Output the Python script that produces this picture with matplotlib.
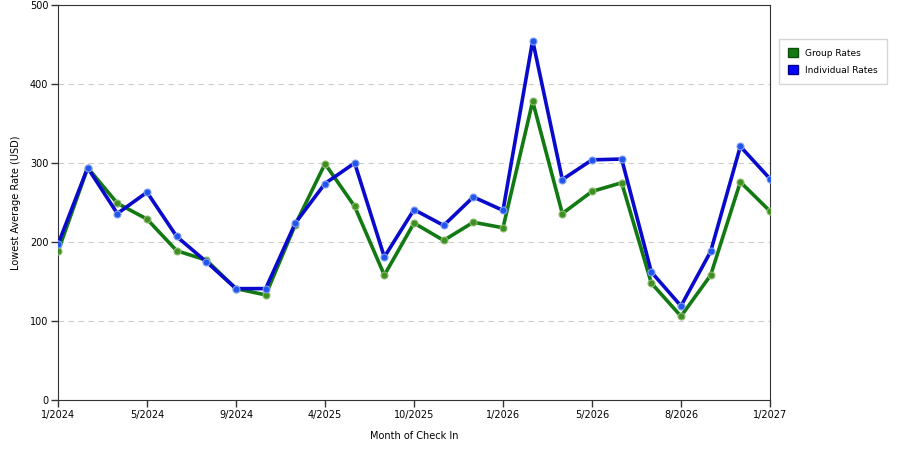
import matplotlib.pyplot as plt
from matplotlib.patches import Patch

# data
months = ["1/2024", "5/2024", "9/2024", "4/2025", "10/2025",
          "1/2026", "5/2026", "8/2026", "1/2027"]
group_rates = [188, 294, 249, 229, 189, 177, 141, 133, 222, 299, 245, 158, 224,
               202, 225, 218, 378, 236, 264, 275, 148, 106, 158, 276, 239]
indiv_rates = [197, 294, 236, 263, 207, 175, 141, 141, 224, 274, 300, 181, 241,
               221, 257, 240, 455, 279, 304, 305, 162, 119, 188, 321, 280]

x = list(range(len(group_rates)))

fig = plt.figure(figsize=(9, 4.5), dpi=100)
ax = fig.add_axes([58 / 900, 1 - 400 / 450, (770 - 58) / 900, 395 / 450])

ax.plot(x, group_rates, color='#137a13', linewidth=2.6, zorder=3,
        marker='o', markersize=5, markerfacecolor='#3f8f22', markeredgecolor='#8dbb70',
        markeredgewidth=0.8)
ax.plot(x, indiv_rates, color='#0a0acc', linewidth=2.6, zorder=4,
        marker='o', markersize=5, markerfacecolor='#2255ee', markeredgecolor='#7f9ff0',
        markeredgewidth=0.8)

ax.set_xlim(0, len(x) - 1)
ax.set_ylim(0, 500)
ax.set_xticks(x[::3])
ax.set_xticklabels(months)
ax.set_yticks([0, 100, 200, 300, 400, 500])

ax.grid(axis='y', color='#cccccc', linestyle=(0, (5, 4)), linewidth=0.8)
ax.set_axisbelow(True)
ax.tick_params(labelsize=7, length=5, width=1, color='#333333', pad=2)
for s in ax.spines.values():
    s.set_color('#333333')

ax.set_xlabel("Month of Check In", fontsize=7, labelpad=8)
ax.set_ylabel("Lowest Average Rate (USD)", fontsize=7, labelpad=6)

handles = [Patch(facecolor='#137a13', edgecolor='#0c4f0c', label='Group Rates'),
           Patch(facecolor='#0000ff', edgecolor='#00008a', label='Individual Rates')]
fig.legend(handles=handles, loc='upper left', bbox_to_anchor=(779 / 900, 1 - 39 / 450),
           borderaxespad=0, fontsize=6.5, frameon=True, fancybox=False, edgecolor='#cccccc',
           handlelength=1.1, handleheight=1.2, handletextpad=0.8,
           borderpad=1.0, labelspacing=0.8)

fig.savefig('out.png', dpi=100)
